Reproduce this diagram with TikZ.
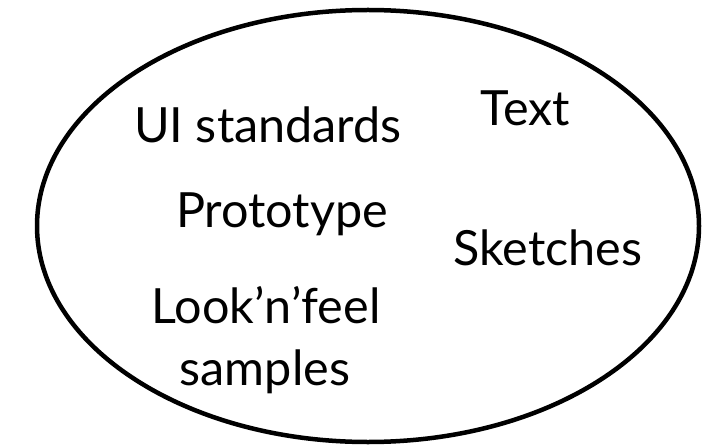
\documentclass[tikz,border=0pt]{standalone}
\usepackage{fontspec}
\setmainfont{Lato}
\usetikzlibrary{positioning}

\begin{document}
\begin{tikzpicture}[x=0.025cm, y=-0.025cm,
    lbl/.style={anchor=base, inner sep=0pt, font=\fontsize{34.5}{40}\selectfont}]

    \useasboundingbox (0,0) rectangle (708,445);

    % ---------------- outline ----------------
    \draw[line width=3.2pt] (368,226) ellipse [x radius=331, y radius=216];

    % ---------------- items ----------------
    \node[lbl] (uistd)  at (268,143) {UI standards};
    \node[lbl] (txt)    at (525,126) {Text};
    \node[lbl] (proto)  at (282,228) {Prototype};
    \node[lbl] (sketch) at (548,265) {Sketches};
    \node[lbl] (look)   at (266,323) {Look’n’feel};
    \node[lbl] (sampl)  at (265,385) {samples};

\end{tikzpicture}
\end{document}
